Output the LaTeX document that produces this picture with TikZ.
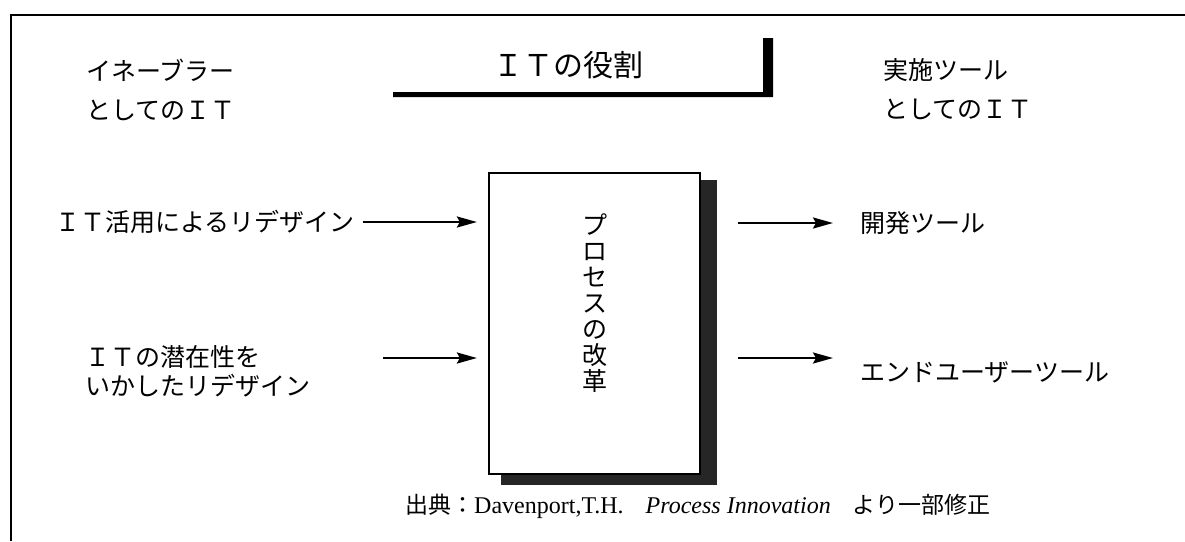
\documentclass[tikz,border=0pt]{standalone}
\usepackage{fontspec}
\setmainfont{Liberation Serif}
\newfontfamily\jp{Noto Sans CJK JP}
\usetikzlibrary{arrows.meta,calc,backgrounds}
\begin{document}
\begin{tikzpicture}[x=1pt,y=-1pt,
  jtxt/.style={font=\jp\fontsize{25}{39}\selectfont, inner sep=0pt, anchor=west, align=left},
  arr/.style={line width=2.4pt, -{Stealth[length=20pt,width=11pt,inset=3pt]}},
  frame/.style={line width=1.8pt},
  shadowfill/.style={fill=black!85},
]
\useasboundingbox (0,0) rectangle (1185,541);
% frame
\draw[frame] (11,541) -- (11,15) -- (1185,15);
% title
\node[font=\jp\fontsize{30}{30}\selectfont, inner sep=0pt] (title) at (568,65) {ＩＴの役割};
\fill (393,92) -- (763,92) -- (763,38) -- (773,38) -- (773,97) -- (393,97) -- cycle;
% column heads
\node[jtxt] (enab) at (86,89.5) {イネーブラー\\としてのＩＴ};
\node[jtxt] (impl) at (883,89.5) {実施ツール\\としてのＩＴ};
% central box
\node[draw, line width=2.2pt, fill=white, minimum width=211pt, minimum height=301pt, inner sep=0pt] (proc) at (594.5,323.5) {};
\begin{scope}[on background layer]
\fill[shadowfill] ($(proc.north west)+(13,8)$) rectangle ($(proc.south east)+(16,10)$);
\end{scope}
\node[font=\jp\fontsize{25}{26}\selectfont, align=center, inner sep=0pt] (ptext) at (595,303) {プ\\ロ\\セ\\ス\\の\\改\\革};
% left inputs
\node[jtxt] (l1) at (55,222) {ＩＴ活用によるリデザイン};
\draw[arr] ([xshift=8pt]l1.east) -- ($(l1.east -| proc.west)+(-11,0)$);
\node[jtxt, font=\jp\fontsize{25}{29}\selectfont] (l2) at (85,371) {ＩＴの潜在性を\\いかしたリデザイン};
\coordinate (s2) at (383,358);
\draw[arr] (s2) -- ($(s2 -| proc.west)+(-11,0)$);
% right outputs
\coordinate (r1s) at (738,223);
\node[jtxt] (r1) at (860,223) {開発ツール};
\draw[arr] (r1s) -- ($(r1.west)+(-27,0)$);
\coordinate (r2s) at (738,358);
\node[jtxt] (r2) at (860,372) {エンドユーザーツール};
\draw[arr] (r2s) -- ($(r2s -| r2.west)+(-27,0)$);
% source
\node[anchor=west, inner sep=0pt, font=\fontsize{24}{24}\selectfont] (src) at (405,506) {{\jp\fontsize{23}{23}\selectfont 出典：}Davenport,T.H.\hspace{22pt}\textit{Process Innovation}\hspace{22pt}{\jp\fontsize{23}{23}\selectfont より一部修正}};
\end{tikzpicture}
\end{document}
